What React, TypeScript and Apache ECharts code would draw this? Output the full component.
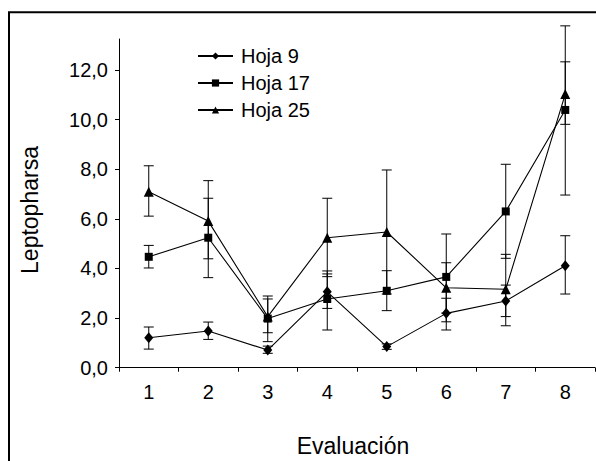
import React, { useEffect, useRef } from 'react';
import * as echarts from 'echarts';

const categories = ['1', '2', '3', '4', '5', '6', '7', '8'];
const seriesNames = ['Hoja 9', 'Hoja 17', 'Hoja 25'];

const hoja9 = [1.21, 1.48, 0.71, 3.06, 0.85, 2.19, 2.69, 4.11];
const hoja9Low = [0.75, 1.14, 0.58, 2.39, 0.74, 1.52, 2.06, 2.97];
const hoja9High = [1.64, 1.84, 0.87, 3.78, 0.96, 2.8, 3.33, 5.32];

const hoja17 = [4.47, 5.24, 1.98, 2.77, 3.1, 3.66, 6.3, 10.39];
const hoja17Low = [4.02, 3.63, 1.41, 1.52, 2.3, 1.85, 4.41, 6.96];
const hoja17High = [4.93, 6.83, 2.77, 3.9, 3.91, 5.39, 8.2, 13.78];

const hoja25 = [7.09, 5.91, 2.06, 5.24, 5.47, 3.22, 3.16, 11.03];
const hoja25Low = [6.11, 4.39, 1.05, 3.67, 2.97, 2.2, 1.69, 9.81];
const hoja25High = [8.14, 7.54, 2.89, 6.83, 7.97, 4.23, 4.57, 12.33];

const yTicks = [0, 2, 4, 6, 8, 10, 12];

const FONT = 'Liberation Sans, Arial, sans-serif';

function errorSeries(name: string, low: number[], high: number[]) {
  return {
    type: 'custom',
    name: name + ' error',
    z: 1,
    silent: true,
    data: categories.map((_, i) => [i, low[i], high[i]]),
    encode: { x: 0, y: [1, 2] },
    renderItem: (params: any, api: any) => {
      const x = api.value(0);
      const pLo = api.coord([x, api.value(1)]);
      const pHi = api.coord([x, api.value(2)]);
      const hw = 5;
      const style = { stroke: '#000', lineWidth: 1 };
      return {
        type: 'group',
        children: [
          { type: 'line', shape: { x1: pHi[0], y1: pHi[1], x2: pLo[0], y2: pLo[1] }, style },
          { type: 'line', shape: { x1: pHi[0] - hw, y1: pHi[1], x2: pHi[0] + hw, y2: pHi[1] }, style },
          { type: 'line', shape: { x1: pLo[0] - hw, y1: pLo[1], x2: pLo[0] + hw, y2: pLo[1] }, style },
        ],
      };
    },
  };
}

function lineSeries(name: string, data: number[], symbol: string, size: any) {
  return {
    type: 'line',
    name,
    data,
    symbol,
    symbolSize: size,
    z: 3,
    lineStyle: { color: '#000', width: 1.1 },
    itemStyle: { color: '#000' },
  };
}

export default function App() {
  const ref = useRef<HTMLDivElement>(null);
  useEffect(() => {
    const chart = echarts.init(ref.current!, null, { renderer: 'svg' });
    chart.setOption({
      animation: false,
      backgroundColor: '#fff',
      textStyle: { fontFamily: FONT, color: '#000' },
      grid: { left: 119, right: 1, top: 39, bottom: 93.3, outerBoundsMode: 'none' },
      legend: {
        data: seriesNames,
        orient: 'vertical',
        left: 192,
        top: 41,
        itemWidth: 35,
        itemHeight: 9,
        itemGap: 7,
        selectedMode: false,
        textStyle: { fontSize: 20, fontFamily: FONT, color: '#000', padding: [0, 0, 0, 3] },
      },
      xAxis: {
        type: 'category',
        data: categories,
        boundaryGap: true,
        axisLine: { lineStyle: { color: '#000', width: 1 } },
        axisTick: { show: true, length: 4, alignWithLabel: false, lineStyle: { color: '#000' } },
        axisLabel: { fontSize: 20, fontFamily: FONT, color: '#000', margin: 14 },
        splitLine: { show: false },
      },
      yAxis: {
        type: 'value',
        min: 0,
        max: 13.25,
        interval: 2,
        axisLine: { show: true, lineStyle: { color: '#000', width: 1 } },
        axisTick: { show: true, length: 4, customValues: yTicks, lineStyle: { color: '#000' } },
        axisLabel: {
          fontSize: 20,
          fontFamily: FONT,
          color: '#000',
          margin: 11,
          padding: [4, 0, 0, 0],
          customValues: yTicks,
          formatter: (v: number) => v.toFixed(1).replace('.', ','),
        },
        splitLine: { show: false },
      },
      graphic: [
        {
          type: 'rect',
          shape: { x: 9, y: 12.3, width: 700, height: 600 },
          style: { fill: 'none', stroke: '#000', lineWidth: 2 },
          silent: true,
        },
        {
          type: 'text',
          x: 30,
          y: 210,
          rotation: Math.PI / 2,
          style: {
            text: 'Leptopharsa',
            fontSize: 23,
            fontFamily: FONT,
            fill: '#000',
            textAlign: 'center',
            textVerticalAlign: 'middle',
          },
        },
        {
          type: 'text',
          x: 353,
          y: 446,
          style: {
            text: 'Evaluación',
            fontSize: 23,
            fontFamily: FONT,
            fill: '#000',
            textAlign: 'center',
            textVerticalAlign: 'middle',
          },
        },
      ],
      series: [
        errorSeries('Hoja 9', hoja9Low, hoja9High),
        errorSeries('Hoja 17', hoja17Low, hoja17High),
        errorSeries('Hoja 25', hoja25Low, hoja25High),
        lineSeries('Hoja 9', hoja9, 'diamond', [9, 11]),
        lineSeries('Hoja 17', hoja17, 'rect', 8),
        lineSeries('Hoja 25', hoja25, 'triangle', 10),
      ],
    });
    return () => chart.dispose();
  }, []);
  return (
    <div
      ref={ref}
      style={{ position: 'fixed', left: 0, top: 0, width: 596, height: 461, background: '#fff' }}
    />
  );
}
